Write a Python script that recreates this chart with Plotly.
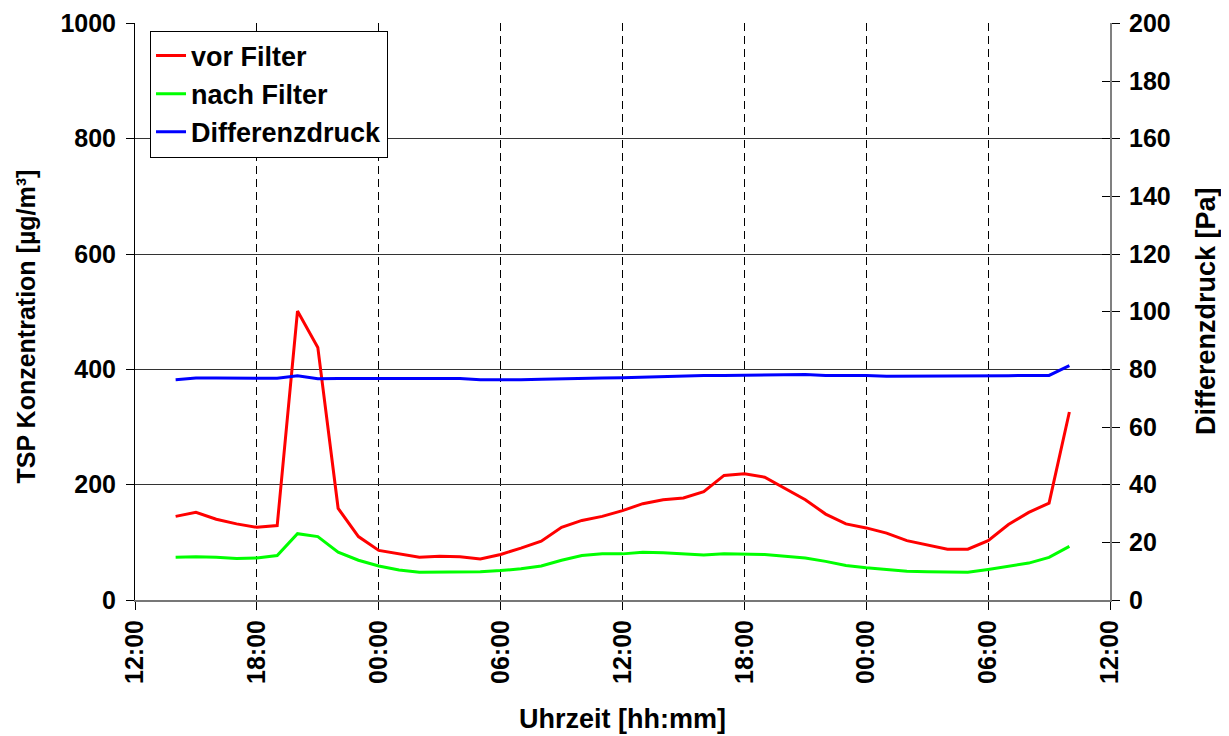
import plotly.graph_objects as go
import pandas as pd

# hourly timestamps from day1 14:00 to day3 10:00
times = pd.date_range("2000-01-01 14:00", "2000-01-03 10:00", freq="h")

vor_filter = [145, 152, 140, 132, 126, 129, 501, 438, 159, 110,
              86, 80, 74, 76, 75, 71, 79, 90, 102, 126, 138, 145,
              155, 167, 174, 177, 188, 216, 219, 213, 193, 174, 149, 132,
              125, 116, 103, 96, 88, 88, 103, 131, 152, 168, 326]

nach_filter = [74, 75, 74, 72, 73, 77, 115, 110, 83, 69,
               59, 52, 48, 48, 49, 49, 51, 54, 59, 69, 77, 80,
               80, 83, 82, 80, 78, 80, 80, 79, 76, 73, 67, 60,
               56, 53, 50, 49, 48, 48, 53, 59, 64, 74, 93]

differenzdruck = [76.4, 77.0, 77.0, 77.0, 76.8, 76.9, 77.8, 76.7, 76.8, 76.8,
                  76.8, 76.8, 76.8, 76.8, 76.8, 76.4, 76.3, 76.4, 76.6, 76.8, 76.9, 77.0,
                  77.1, 77.3, 77.6, 77.8, 77.9, 77.9, 78.0, 78.2, 78.2, 78.2, 77.9, 77.9,
                  77.9, 77.6, 77.6, 77.6, 77.8, 77.8, 77.8, 77.8, 77.9, 77.9, 81.3]

x_range = ["2000-01-01 12:00", "2000-01-03 12:00"]

FONT = "Liberation Sans, Arial, sans-serif"

fig = go.Figure()
fig.add_trace(go.Scatter(x=times, y=vor_filter, name="vor Filter", mode="lines",
                         line=dict(color="#ff0000", width=3)))
fig.add_trace(go.Scatter(x=times, y=nach_filter, name="nach Filter", mode="lines",
                         line=dict(color="#00ff00", width=3)))
fig.add_trace(go.Scatter(x=times, y=differenzdruck, name="Differenzdruck", mode="lines",
                         line=dict(color="#0000ff", width=3), yaxis="y2"))
# invisible trace to activate the inner tick axis on the right
fig.add_trace(go.Scatter(x=[times[0]], y=[None], yaxis="y3", showlegend=False,
                         hoverinfo="skip", mode="lines"))

tickfont = dict(family=FONT, size=25, color="black", weight="bold")

# page body has an 8px default margin; figure is sized to fit the window
fig.update_layout(
    width=1221, height=728,
    margin=dict(l=127, r=119, t=15, b=136, autoexpand=False),
    paper_bgcolor="white", plot_bgcolor="white",
    showlegend=True,
    legend=dict(x=0.0154, y=0.987, xanchor="left", yanchor="top",
                bgcolor="white", bordercolor="black", borderwidth=1,
                font=dict(family=FONT, size=27, color="black", weight="bold"),
                tracegroupgap=0, itemwidth=30),
    xaxis=dict(
        type="date", range=x_range, automargin=False,
        tickformat="%H:%M", dtick=6 * 3600 * 1000, tick0="2000-01-01 12:00",
        tickangle=-90, tickfont=tickfont, ticklabeloverflow="allow",
        showgrid=True, gridcolor="black", gridwidth=1, griddash="8px,5px",
        showline=True, linecolor="#777777", linewidth=2, mirror=False,
        ticks="outside", ticklen=8, tickcolor="black",
        zeroline=False,
    ),
    yaxis=dict(
        range=[0, 1000.6], dtick=200, tickfont=tickfont, automargin=False,
        showgrid=True, gridcolor="#333333", gridwidth=1,
        showline=True, linecolor="black", linewidth=1,
        ticks="outside", ticklen=8, tickcolor="black", ticklabelstandoff=5,
        ticklabeloverflow="allow",
        zeroline=False,
    ),
    yaxis2=dict(
        range=[0, 200.12], dtick=20, tickfont=tickfont, automargin=False,
        overlaying="y", side="right", showgrid=False,
        showline=True, linecolor="#808080", linewidth=2,
        ticks="outside", ticklen=8, tickcolor="black", ticklabelstandoff=4,
        ticklabeloverflow="allow",
        zeroline=False,
    ),
    yaxis3=dict(
        range=[0, 200.12], dtick=20, automargin=False,
        overlaying="y", side="right", showgrid=False, showticklabels=False,
        showline=False, ticks="inside", ticklen=8, tickcolor="black",
        zeroline=False,
    ),
    annotations=[
        dict(text="TSP Konzentration [µg/m³]", xref="paper", yref="paper",
             x=-0.1128, y=0.474, textangle=-90, showarrow=False,
             xanchor="center", yanchor="middle",
             font=dict(family=FONT, size=25, color="black", weight="bold")),
        dict(text="Differenzdruck [Pa]", xref="paper", yref="paper",
             x=1.098, y=0.5, textangle=-90, showarrow=False,
             xanchor="center", yanchor="middle",
             font=dict(family=FONT, size=27, color="black", weight="bold")),
        dict(text="Uhrzeit [hh:mm]", xref="paper", yref="paper",
             x=0.5, y=-0.207, showarrow=False,
             xanchor="center", yanchor="middle",
             font=dict(family=FONT, size=27, color="black", weight="bold")),
    ],
)

fig.write_html("out.html")
